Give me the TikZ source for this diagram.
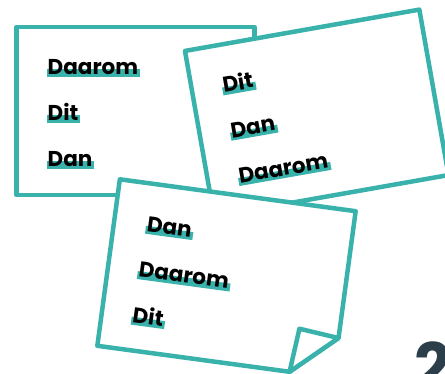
\documentclass[tikz,border=0pt]{standalone}
\usepackage{fontspec}
\newfontfamily\wordfont{Poppins}
\usetikzlibrary{calc}
\definecolor{cardteal}{RGB}{58,178,172}
\definecolor{numslate}{RGB}{44,62,74}
\newcommand{\barword}[1]{\setbox0\hbox{#1}\rlap{\color{cardteal}\kern-1pt\rule[-2.5pt]{\dimexpr\wd0+3pt\relax}{8pt}}\box0}

\begin{document}
\begin{tikzpicture}[x=1pt, y=-1pt,
    card/.style={draw=cardteal, line width=4.5pt, fill=white, line join=round},
    word/.style={anchor=base west, inner sep=0pt, font=\wordfont\bfseries\fontsize{21.5}{24}\selectfont}]
    \useasboundingbox (0,0) rectangle (445,374);

    % Draw back card
    \begin{scope}[shift={(135.5,111)}]
        \draw[card] (-119,-84) rectangle (119,84);
        \node[word] (c1-daarom) at (-88,-36) {\barword{Daarom}};
        \node[word] (c1-dit) at (-88,10) {\barword{Dit}};
        \node[word] (c1-dan) at (-88,56) {\barword{Dan}};
    \end{scope}

    % Draw right card, tilted up
    \begin{scope}[shift={(316.75,113)}, rotate=10, transform shape]
        \draw[card] (-119,-84) rectangle (119,84);
        \node[word] (c2-dit) at (-88,-36) {\barword{Dit}};
        \node[word] (c2-dan) at (-88,10) {\barword{Dan}};
        \node[word] (c2-daarom) at (-88,56) {\barword{Daarom}};
    \end{scope}

    % Draw front card with folded corner
    \begin{scope}[shift={(226.5,278.5)}, rotate=-7.7, transform shape]
        \coordinate (fold-a) at (119,44);
        \coordinate (fold-b) at (75,84);
        \coordinate (fold-tip) at (79,40);
        \draw[card] (-119,-84) -- (119,-84) -- (fold-a) -- (fold-b) -- (-119,84) -- cycle;
        \draw[card] (fold-a) -- (fold-tip) -- (fold-b) -- cycle;
        \node[word] (c3-dan) at (-86,-36) {\barword{Dan}};
        \node[word] (c3-daarom) at (-88,10) {\barword{Daarom}};
        \node[word] (c3-dit) at (-88,56) {\barword{Dit}};
    \end{scope}

    % Step number
    \node[anchor=north west, inner sep=0pt, text=numslate, font=\wordfont\bfseries\fontsize{64}{64}\selectfont] (step-num) at (414,342) {2};
\end{tikzpicture}
\end{document}
